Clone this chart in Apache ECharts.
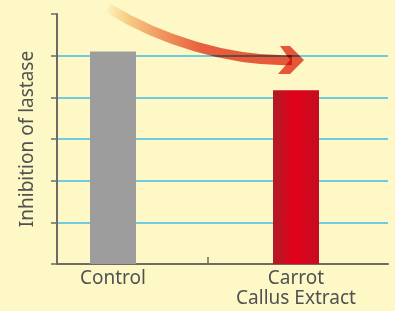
<!DOCTYPE html>
<html>
<head>
<meta charset="utf-8">
<script src="https://cdn.jsdelivr.net/npm/echarts@6/dist/echarts.min.js"></script>
<style>
    html, body { margin: 0; padding: 0; background: #fdf8c6; }
    #chart { width: 395px; height: 311px; }
</style>
</head>
<body>
<div id="chart"></div>
<script>
var categories = ['Control', 'Carrot\nCallus Extract'];
var inhibition = [5.1, 4.17];
var yMin = 0, yMax = 6, yStep = 1;

var myChart = echarts.init(document.getElementById('chart'));

var axisGray = '#6e6b64';
var textGray = '#515154';

var option = {
    backgroundColor: '#fdf8c6',
    animation: false,
    grid: [
        // frame: axes and cyan lines
        { left: 57, right: 7, top: 14, bottom: 47 },
        // bars
        { left: 21.5, right: 7.5, top: 14, bottom: 47 }
    ],
    xAxis: [
        {
            gridIndex: 0,
            type: 'value',
            min: 0,
            max: 1,
            axisLine: { show: true, lineStyle: { color: axisGray, width: 2 } },
            axisTick: { show: true, inside: true, length: 7, customValues: [0.456], lineStyle: { color: axisGray, width: 1.5 } },
            axisLabel: { show: false },
            splitLine: { show: false }
        },
        {
            gridIndex: 1,
            type: 'category',
            data: categories,
            axisLine: { show: false },
            axisTick: { show: false },
            axisLabel: {
                margin: 5,
                color: textGray,
                fontFamily: 'Noto Sans',
                fontSize: 19,
                lineHeight: 20
            }
        }
    ],
    yAxis: [
        {
            gridIndex: 0,
            type: 'value',
            min: yMin,
            max: yMax,
            interval: yStep,
            name: 'Inhibition of lastase',
            nameLocation: 'middle',
            nameGap: 20,
            nameTextStyle: { color: textGray, fontFamily: 'Noto Sans', fontSize: 19 },
            axisLine: { show: true, lineStyle: { color: axisGray, width: 2 } },
            axisTick: { show: true, length: 6, lineStyle: { color: axisGray, width: 1.5 } },
            axisLabel: { show: false },
            splitLine: {
                show: true,
                showMinLine: false,
                showMaxLine: false,
                lineStyle: { color: '#6fcbe0', width: 2 }
            }
        },
        {
            gridIndex: 1,
            type: 'value',
            min: yMin,
            max: yMax,
            show: false
        }
    ],
    series: [
        {
            type: 'bar',
            xAxisIndex: 1,
            yAxisIndex: 1,
            barWidth: 46,
            z: 3,
            data: [
                { value: inhibition[0], itemStyle: { color: '#9d9d9d' } },
                {
                    value: inhibition[1],
                    itemStyle: {
                        color: new echarts.graphic.LinearGradient(0, 0, 1, 0, [
                            { offset: 0, color: '#ad1c27' },
                            { offset: 0.45, color: '#e3001a' },
                            { offset: 1, color: '#c40d1f' }
                        ])
                    }
                }
            ]
        }
    ],
    graphic: [
        {
            type: 'bezierCurve',
            z: 10,
            shape: { x1: 108, y1: 8, cpx1: 160, cpy1: 40, cpx2: 230, cpy2: 62, x2: 292, y2: 60 },
            style: {
                fill: null,
                lineWidth: 10,
                blend: 'multiply',
                stroke: new echarts.graphic.LinearGradient(104, 0, 300, 0, [
                    { offset: 0, color: '#ffffff' },
                    { offset: 0.12, color: '#fad2aa' },
                    { offset: 0.3, color: '#f2987a' },
                    { offset: 0.5, color: '#e9624e' },
                    { offset: 1, color: '#e85848' }
                ], true)
            }
        },
        {
            type: 'polygon',
            z: 10,
            shape: { points: [[280, 46], [290, 46], [304, 60], [290, 74], [278, 74], [290, 60]] },
            style: { fill: '#e85848', blend: 'multiply' }
        }
    ]
};

myChart.setOption(option);
</script>
</body>
</html>
